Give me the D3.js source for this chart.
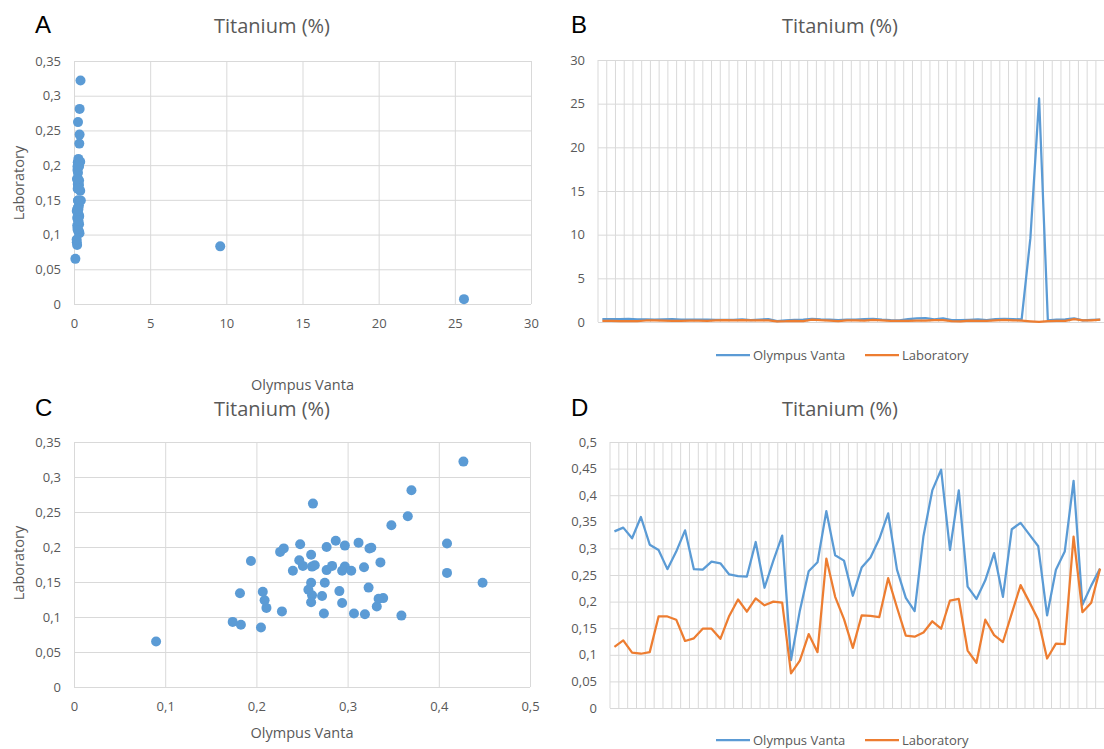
<!DOCTYPE html>
<html>
<head>
<meta charset="utf-8">
<script src="https://cdn.jsdelivr.net/npm/d3@7"></script>
<style>
  body { margin: 0; background: #fff; }
  svg { display: block; font-family: "Open Sans", sans-serif; }
</style>
</head>
<body>
<svg id="chart" width="1104" height="749"></svg>
<script>
// Titanium (%) readings, Olympus Vanta vs Laboratory, in sample order
const olympus = [
  0.332, 0.339, 0.319, 0.359, 0.307, 0.297, 0.261, 0.294, 0.334, 0.261,
  0.260, 0.275, 0.272, 0.251, 0.248, 0.247, 0.312, 0.226, 0.277, 0.324,
  0.090, 0.183, 0.257, 0.274, 0.370, 0.287, 0.277, 0.211, 0.264, 0.283,
  0.318, 0.366, 0.260, 0.207, 0.182, 0.323, 0.409, 0.448, 0.297, 0.409,
  0.228, 0.205, 0.240, 0.291, 0.209, 0.336, 0.348, 0.326, 0.304, 9.6,
  25.6, 0.174, 0.260, 0.294, 0.427, 0.194, 0.230, 0.262
];
const laboratory = [
  0.115, 0.127, 0.104, 0.102, 0.105, 0.172, 0.172, 0.166, 0.126, 0.131,
  0.149, 0.149, 0.130, 0.173, 0.204, 0.181, 0.206, 0.193, 0.200, 0.198,
  0.065, 0.089, 0.139, 0.105, 0.281, 0.209, 0.167, 0.113, 0.174, 0.173,
  0.171, 0.244, 0.189, 0.136, 0.134, 0.142, 0.163, 0.149, 0.202, 0.205,
  0.108, 0.085, 0.166, 0.137, 0.124, 0.178, 0.231, 0.199, 0.166, 0.083,
  0.007, 0.093, 0.121, 0.120, 0.322, 0.180, 0.198, 0.262
];
const seriesNames = ["Olympus Vanta", "Laboratory"];

const ticksA_x = [0, 5, 10, 15, 20, 25, 30];
const ticksA_y = [0, 0.05, 0.1, 0.15, 0.2, 0.25, 0.3, 0.35];
const ticksB_y = [0, 5, 10, 15, 20, 25, 30];
const ticksC_x = [0, 0.1, 0.2, 0.3, 0.4, 0.5];
const ticksC_y = ticksA_y;
const ticksD_y = [0, 0.05, 0.1, 0.15, 0.2, 0.25, 0.3, 0.35, 0.4, 0.45, 0.5];

const COLORS = { blue: "#5B9BD5", orange: "#ED7D31", grid: "#D9D9D9", text: "#595959" };
const fmt = (v) => String(+v.toFixed(2)).replace(".", ",");

const all = olympus.map((o, i) => ({ i, o, lab: laboratory[i] }));
// C and D leave out the two Vanta outliers (> 1 %)
const trimmed = all.filter((d) => d.o < 1);

const svg = d3.select("#chart");

const header = (g, letter, lx, tx, by) => {
  g.append("text").attr("x", lx).attr("y", by).attr("font-family", "Liberation Sans, Arial, sans-serif")
    .attr("font-size", 24).attr("fill", "#000").text(letter);
  g.append("text").attr("x", tx).attr("y", by).attr("text-anchor", "middle")
    .attr("font-size", 20).attr("fill", COLORS.text).text("Titanium (%)");
};

const yAxis = (g, y, ticks, left, width) => {
  g.append("g")
    .attr("transform", `translate(${left},0)`)
    .call(d3.axisLeft(y).tickValues(ticks).tickSize(-width).tickPadding(13).tickFormat(fmt))
    .call((a) => a.select(".domain").remove())
    .call((a) => a.selectAll("line").attr("stroke", COLORS.grid))
    .call((a) => a.selectAll("text").attr("fill", COLORS.text).attr("font-size", 13).attr("font-family", "Open Sans"));
};

function scatter(p) {
  const g = svg.append("g");
  header(g, p.letter, 35, 272, p.by);

  const x = d3.scaleLinear().domain(p.xDomain).range([p.left, p.right]);
  const y = d3.scaleLinear().domain([0, 0.35]).range([p.bottom, p.top]);

  g.append("g")
    .attr("transform", `translate(0,${p.bottom})`)
    .call(d3.axisBottom(x).tickValues(p.xTicks).tickSize(-(p.bottom - p.top)).tickPadding(15).tickFormat(fmt))
    .call((a) => a.select(".domain").remove())
    .call((a) => a.selectAll("line").attr("stroke", COLORS.grid))
    .call((a) => a.selectAll("text").attr("fill", COLORS.text).attr("font-size", 13).attr("font-family", "Open Sans"));
  yAxis(g, y, p.yTicks, p.left, p.right - p.left);

  g.append("g")
    .selectAll("circle")
    .data(p.data)
    .join("circle")
    .attr("cx", (d) => x(d.o))
    .attr("cy", (d) => y(d.lab))
    .attr("r", 5)
    .attr("fill", COLORS.blue);

  g.append("text").attr("x", (p.left + p.right) / 2).attr("y", p.xTitleY).attr("text-anchor", "middle")
    .attr("font-size", 14.5).attr("fill", COLORS.text).text("Olympus Vanta");
  g.append("text").attr("transform", `translate(24,${p.yTitleY}) rotate(-90)`).attr("text-anchor", "middle")
    .attr("font-size", 14.5).attr("fill", COLORS.text).text("Laboratory");
}

function lines(p) {
  const g = svg.append("g");
  header(g, p.letter, 571, 840, p.by);

  const x = d3.scaleBand().domain(p.data.map((d) => d.i)).range([p.left, p.left + p.step * p.data.length]);
  const y = d3.scaleLinear().domain(p.yDomain).range([p.bottom, p.top]);
  const cx = (d) => x(d.i) + x.bandwidth() / 2;

  yAxis(g, y, p.yTicks, p.left, p.step * p.data.length);

  // category gridlines sit on the boundaries between samples
  g.append("g")
    .selectAll("line")
    .data(p.data.map((d) => x(d.i)).concat([x.range()[1]]))
    .join("line")
    .attr("x1", (d) => d).attr("x2", (d) => d)
    .attr("y1", p.top).attr("y2", p.bottom)
    .attr("stroke", COLORS.grid);

  const series = [
    { name: seriesNames[0], key: "o", color: COLORS.blue },
    { name: seriesNames[1], key: "lab", color: COLORS.orange },
  ];
  series.forEach((s) => {
    g.append("path")
      .datum(p.data)
      .attr("d", d3.line().x(cx).y((d) => y(d[s.key])))
      .attr("fill", "none")
      .attr("stroke", s.color)
      .attr("stroke-width", 2.25)
      .attr("stroke-linejoin", "round");
  });

  const legendX = [716, 865];
  const lg = g.append("g").selectAll("g").data(series).join("g")
    .attr("transform", (d, i) => `translate(${legendX[i]},${p.legendY})`);
  lg.append("line").attr("x1", 0).attr("x2", 34).attr("stroke", (d) => d.color).attr("stroke-width", 2.25);
  lg.append("text").attr("x", 37).attr("dy", "0.35em").attr("font-size", 13).attr("fill", COLORS.text)
    .text((d) => d.name);
}

scatter({ letter: "A", by: 33, data: all, xDomain: [0, 30], xTicks: ticksA_x, yTicks: ticksA_y,
  left: 74, right: 531, top: 61, bottom: 304, xTitleY: 390, yTitleY: 183 });
lines({ letter: "B", by: 33, data: all, yDomain: [0, 30], yTicks: ticksB_y,
  left: 598, step: 8.735, top: 60, bottom: 322, legendY: 355 });
scatter({ letter: "C", by: 416, data: trimmed, xDomain: [0, 0.5], xTicks: ticksC_x, yTicks: ticksC_y,
  left: 74, right: 530, top: 442, bottom: 687, xTitleY: 738, yTitleY: 563 });
lines({ letter: "D", by: 416, data: trimmed, yDomain: [0, 0.5], yTicks: ticksD_y,
  left: 610, step: 8.83, top: 442, bottom: 708, legendY: 740 });
</script>
</body>
</html>
